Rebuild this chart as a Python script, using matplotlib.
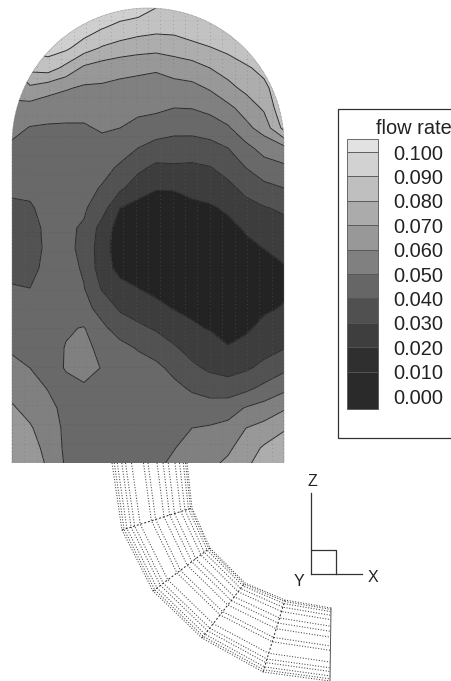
"""Flow rate contour map over a duct section, with the inlet bend mesh below."""
import matplotlib
matplotlib.use("Agg")
import matplotlib.pyplot as plt
from matplotlib.patches import PathPatch, Rectangle
from matplotlib.path import Path
import numpy as np

plt.rcParams["font.family"] = ["Liberation Sans", "DejaVu Sans"]

section_x = [12, 30, 48, 66, 84, 102, 120, 138, 156, 174, 192, 210, 228, 246, 264, 284]
section_y = [8, 28, 48, 68, 88, 108, 128, 148, 168, 188, 208, 228, 248, 268, 288, 308,
             328, 348, 368, 388, 408, 428, 448, 468]
col_012 = [.09, .09, .08, .07, .063, .058, .053, .048, .044, .041, .039, .037, .036, .038, .0405, .043, .046, .049, .052, .057, .061, .064, .067, .069]
col_030 = [.095, .095, .092, .083, .068, .056, .0495, .047, .044, .042, .039, .037, .036, .038, .040, .042, .044, .047, .050, .054, .057, .061, .064, .067]
col_048 = [.097, .097, .094, .085, .064, .054, .049, .047, .046, .045, .043, .042, .042, .042, .043, .044, .045, .046, .047, .0495, .053, .055, .057, .059]
col_066 = [.098, .097, .092, .077, .061, .053, .049, .047, .045, .043, .042, .0415, .042, .043, .045, .047, .049, .0505, .0505, .048, .047, .048, .048, .049]
col_084 = [.098, .096, .0845, .068, .0585, .053, .049, .0473, .0453, .0433, .0412, .039, .038, .039, .0403, .043, .0505, .053, .054, .0485, .047, .047, .047, .047]
col_102 = [.097, .0905, .079, .065, .0585, .0545, .051, .047, .0432, .0392, .0345, .026, .024, .0245, .029, .0365, .042, .047, .0495, .047, .045, .045, .046, .046]
col_120 = [.096, .087, .076, .063, .0575, .0535, .05, .0443, .0385, .032, .02, .0155, .015, .017, .023, .0285, .0358, .043, .045, .045, .045, .045, .045, .045]
col_138 = [.095, .0845, .074, .062, .0568, .052, .0476, .04, .0323, .0245, .0165, .013, .012, .014, .02, .026, .0318, .0393, .044, .045, .045, .045, .046, .046]
col_156 = [.09, .083, .073, .061, .0565, .052, .0448, .0365, .0277, .0205, .0165, .014, .012, .014, .0175, .0225, .029, .0355, .0425, .046, .0465, .047, .048, .049]
col_174 = [.088, .083, .0745, .064, .0565, .05, .043, .0355, .0285, .0205, .017, .014, .012, .014, .017, .0195, .025, .0312, .0373, .0425, .0445, .047, .0497, .052]
col_192 = [.087, .086, .0767, .066, .0572, .0503, .043, .0354, .028, .0218, .0185, .015, .013, .014, .016, .0185, .021, .0265, .032, .0387, .0445, .05, .053, .056]
col_210 = [.089, .088, .0795, .07, .061, .0528, .0446, .0367, .0294, .0237, .019, .016, .014, .014, .015, .0175, .0195, .0235, .0283, .036, .044, .051, .055, .059]
col_228 = [.089, .089, .0825, .0746, .0668, .0577, .0487, .04, .0338, .0274, .0212, .018, .015, .013, .013, .014, .0165, .0206, .0265, .0345, .0456, .0528, .0582, .063]
col_246 = [.089, .089, .088, .0783, .0728, .0638, .0575, .0471, .04, .0329, .0266, .0208, .0185, .0165, .015, .016, .0185, .023, .0287, .0375, .0507, .06, .065, .069]
col_264 = [.089, .089, .088, .0835, .077, .0716, .0639, .0539, .0452, .0374, .0293, .0248, .0201, .0178, .0165, .0185, .0225, .0267, .0325, .0425, .0538, .0633, .0713, .076]
col_284 = [.089, .089, .089, .089, .089, .088, .083, .0571, .048, .04, .0317, .0267, .0227, .0193, .018, .0207, .025, .0296, .0378, .0475, .0588, .069, .075, .08]
flow_columns = [col_012, col_030, col_048, col_066, col_084, col_102, col_120, col_138,
                col_156, col_174, col_192, col_210, col_228, col_246, col_264, col_284]

levels = [-.01, 0, .01, .02, .03, .04, .05, .06, .07, .08, .09, .10, .20]
band_colors = ["#262626", "#262626", "#232323", "#3d3d3d", "#525252", "#696969", "#808080",
               "#989898", "#adadad", "#c2c2c2", "#cfcfcf", "#dedede"]
legend_labels = ["0.100", "0.090", "0.080", "0.070", "0.060", "0.050",
                 "0.040", "0.030", "0.020", "0.010", "0.000"]
legend_colors = ["#e2e2e2", "#d2d2d2", "#bfbfbf", "#ababab", "#989898", "#808080",
                 "#666666", "#505050", "#3e3e3e", "#2f2f2f", "#2a2a2a"]

# bend mesh, section corners
pipe_left_x = [112, 122, 153, 202, 263, 330]
pipe_left_y = [463, 530, 591, 638, 672, 681]
pipe_right_x = [187, 192, 210, 245, 285, 331]
pipe_right_y = [463, 508, 548, 583, 600, 608]

fig = plt.figure(figsize=(4.51, 6.81), dpi=100)
ax = fig.add_axes([0, 0, 1, 1])
ax.set_xlim(0, 451)
ax.set_ylim(681, 0)
ax.axis("off")

# section outline: rectangle with a round top
cx, cy, r = 148, 144, 136
t = np.linspace(np.pi, 0, 80)
outline = np.column_stack([np.r_[12, cx + r * np.cos(t), 284, 12], np.r_[463, cy - r * np.sin(t), 463, 463]])
clip = PathPatch(Path(outline), fc="none", ec="none", transform=ax.transData)
ax.add_patch(clip)

z = np.array(flow_columns).T
filled = ax.contourf(section_x, section_y, z, levels=levels, colors=band_colors)
filled.set_clip_path(clip)
lines = ax.contour(section_x, section_y, z, levels=levels[2:-1], colors="#2b2b2b", linewidths=0.7)
lines.set_clip_path(clip)

# faint solver mesh on the section
for x in np.linspace(12, 284, 23):
    for color, alpha in (("white", 0.2), ("black", 0.22)):
        m = ax.plot([x, x], [8, 463], color=color, alpha=alpha, lw=0.7, ls=(0, (1, 3)))[0]
        m.set_clip_path(clip)
for y in np.linspace(20, 463, 24):
    m = ax.plot([12, 284], [y, y], color="black", alpha=0.12, lw=0.5, ls=(0, (1, 3)))[0]
    m.set_clip_path(clip)
ax.plot(outline[:-1, 0], outline[:-1, 1], color="#777777", lw=0.5, ls=(0, (1, 1)))

# bend: dotted lengthwise lines, dashed section rings
lx, ly = np.array(pipe_left_x, float), np.array(pipe_left_y, float)
rx, ry = np.array(pipe_right_x, float), np.array(pipe_right_y, float)
fractions = [0, .03, .07, .13, .18, .26, .42, .48, .60, .68, .75, .84, .90, .95, .98, 1]
for f in fractions:
    ax.plot(lx + f * (rx - lx), ly + f * (ry - ly), color="#444444", lw=0.75, ls=(0, (1, 1.6)))
for i in range(1, 5):
    ax.plot([lx[i], rx[i]], [ly[i], ry[i]], color="#222222", lw=0.7, ls=(0, (2, 2)))
ax.plot([lx[-1], rx[-1]], [ly[-1], ry[-1]], color="#555555", lw=0.7)

# legend box runs off the right edge; top cell is short, bottom cell runs past 0.000
ax.add_patch(Rectangle((338, 109), 130, 329, fc="white", ec="#333333", lw=0.9))
ax.text(376, 128, "flow rate", fontsize=14.4, ha="left", va="center", color="#222222")
step = 24.4
cell_tops = [139] + [152 + i * step for i in range(10)]
cell_heights = [13] + [step] * 9 + [37]
for top, h, col in zip(cell_tops, cell_heights, legend_colors):
    ax.bar(362.5, h, width=31, bottom=top, color=col, edgecolor="#555555", lw=0.6)
for i, lab in enumerate(legend_labels):
    ax.text(393, 154 + i * step, lab, fontsize=14.4, ha="left", va="center", color="#222222")

# coordinate triad
ax.plot([311, 311], [493, 574], color="#333333", lw=0.9)
ax.plot([311, 362], [574, 574], color="#333333", lw=0.9)
ax.plot([311, 336, 336], [550, 550, 574], color="#333333", lw=0.9)
ax.text(312, 481, "Z", fontsize=11.5, ha="center", va="center", color="#222222")
ax.text(299, 582, "Y", fontsize=11.5, ha="center", va="center", color="#222222")
ax.text(373, 577, "X", fontsize=11.5, ha="center", va="center", color="#222222")

fig.savefig("out.png", dpi=100)
